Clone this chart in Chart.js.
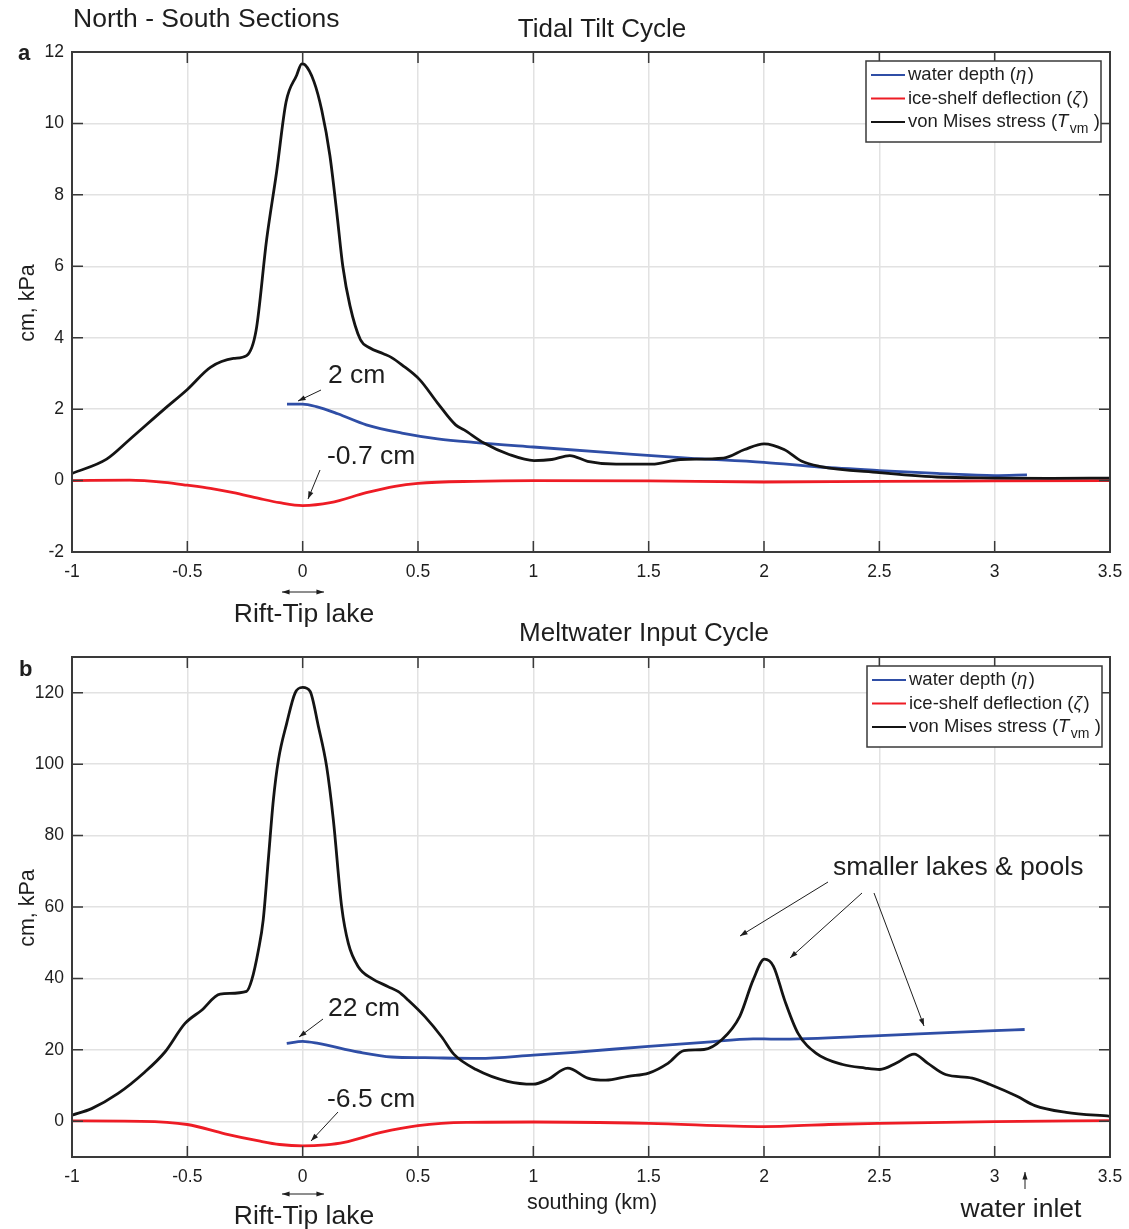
<!DOCTYPE html>
<html>
<head>
<meta charset="utf-8">
<script src="https://cdn.jsdelivr.net/npm/chart.js@4.4.1/dist/chart.umd.min.js"></script>
<style>
  html, body { margin: 0; padding: 0; background: #fff; }
  #wrap { position: relative; width: 1129px; height: 1229px; overflow: hidden; }
  canvas { position: absolute; left: 0; }
  #chartA { top: 0; }
  #chartB { top: 600px; }
</style>
</head>
<body>
<div id="wrap">
  <canvas id="chartA" width="1129" height="640"></canvas>
  <canvas id="chartB" width="1129" height="629"></canvas>
</div>
<script>
// Two stacked N-S sections: tidal tilt (a) and meltwater input (b)

// --- tick values ---
const xTicks = [-1, -0.5, 0, 0.5, 1, 1.5, 2, 2.5, 3, 3.5];
const yTicksA = [-2, 0, 2, 4, 6, 8, 10, 12];
const yTicksB = [0, 20, 40, 60, 80, 100, 120];

// --- panel a: tidal tilt cycle ---
const tideWaterX = [-0.068, 0, 0.059, 0.152, 0.276, 0.43, 0.585, 0.74, 1.0, 1.36, 1.67, 2.0, 2.24, 2.5, 2.75, 3.0, 3.14];
const tideWaterY = [2.14, 2.14, 2.07, 1.87, 1.56, 1.33, 1.17, 1.07, 0.94, 0.77, 0.63, 0.51, 0.38, 0.28, 0.2, 0.14, 0.16];

const tideDeflX = [-1, -0.75, -0.6, -0.5, -0.4, -0.3, -0.19, -0.1, 0, 0.12, 0.276, 0.4, 0.5, 0.74, 1.0, 1.5, 2.0, 2.5, 3.0, 3.5];
const tideDeflY = [0, 0.01, -0.05, -0.13, -0.22, -0.34, -0.5, -0.62, -0.7, -0.62, -0.34, -0.16, -0.08, -0.02, 0, -0.01, -0.04, -0.02, -0.01, 0];

const tideStressX = [-1, -0.85, -0.75, -0.6, -0.5, -0.4, -0.3, -0.243, -0.202, -0.156, -0.113, -0.072, -0.026, -0.004, 0.01, 0.049, 0.083, 0.118, 0.148, 0.174, 0.205, 0.25, 0.29, 0.35, 0.384, 0.43, 0.508, 0.585, 0.663, 0.7, 0.786, 0.895, 1.003, 1.08, 1.158, 1.235, 1.359, 1.514, 1.638, 1.824, 1.916, 2.0, 2.087, 2.164, 2.24, 2.5, 2.75, 3.0, 3.25, 3.5];
const tideStressY = [0.2, 0.6, 1.15, 2.0, 2.55, 3.17, 3.42, 3.5, 4.2, 6.76, 8.64, 10.6, 11.35, 11.67, 11.64, 11.17, 10.36, 9.1, 7.5, 6.0, 4.9, 3.95, 3.72, 3.55, 3.45, 3.24, 2.82, 2.17, 1.56, 1.42, 1.05, 0.73, 0.56, 0.59, 0.7, 0.54, 0.46, 0.46, 0.59, 0.63, 0.87, 1.03, 0.87, 0.54, 0.4, 0.22, 0.1, 0.07, 0.06, 0.07];

// --- panel b: meltwater input cycle ---
const meltWaterX = [-0.069, 0, 0.068, 0.241, 0.386, 0.53, 0.762, 1.0, 1.178, 1.5, 1.74, 1.953, 2.05, 2.502, 2.67, 3.0, 3.13];
const meltWaterY = [21.8, 22.4, 21.8, 19.4, 18.0, 17.8, 17.6, 18.5, 19.3, 21.0, 22.1, 23.1, 23.0, 24.0, 24.5, 25.4, 25.7];

const meltDeflX = [-1, -0.7, -0.5, -0.337, -0.19, -0.1, 0, 0.1, 0.18, 0.34, 0.5, 0.71, 1.0, 1.5, 2.0, 2.28, 2.5, 3.0, 3.5];
const meltDeflY = [0.1, 0, -0.9, -3.5, -5.5, -6.5, -6.9, -6.6, -5.9, -3.1, -1.2, -0.3, -0.2, -0.6, -1.5, -0.9, -0.6, -0.1, 0.2];

const meltStressX = [-1, -0.915, -0.8, -0.684, -0.597, -0.51, -0.438, -0.358, -0.243, -0.221, -0.192, -0.171, -0.149, -0.127, -0.105, -0.069, -0.033, 0, 0.032, 0.068, 0.104, 0.133, 0.169, 0.198, 0.241, 0.299, 0.371, 0.415, 0.458, 0.53, 0.603, 0.655, 0.752, 0.888, 1.0, 1.062, 1.149, 1.236, 1.314, 1.411, 1.5, 1.585, 1.653, 1.74, 1.818, 1.895, 1.953, 2.002, 2.041, 2.089, 2.147, 2.225, 2.341, 2.438, 2.502, 2.574, 2.651, 2.709, 2.787, 2.903, 2.98, 3.097, 3.174, 3.31, 3.5];
const meltStressY = [1.7, 3.55, 7.8, 13.8, 19.4, 27.4, 31.1, 35.6, 36.4, 39.5, 47.9, 56.4, 73.2, 90, 101.2, 111.5, 119.9, 121.5, 120.4, 110.6, 99.3, 84.4, 60.1, 49.8, 43.3, 40, 37.7, 36.3, 33.9, 29.3, 23.6, 18.8, 14.5, 11.2, 10.4, 11.7, 14.9, 12.1, 11.5, 12.6, 13.5, 16.3, 19.8, 20.1, 22.9, 29.4, 39.6, 45.4, 43.4, 34.0, 24.7, 19.1, 15.9, 14.9, 14.5, 16.3, 18.8, 16.3, 13.1, 12.1, 10.3, 7.0, 4.4, 2.5, 1.4];

const seriesLabels = ['water depth', 'ice-shelf deflection', 'von Mises stress'];

// styles
const FONT = '"Liberation Sans", Arial, Helvetica, sans-serif';
const colors = ['#2f4ea6', '#ee1c25', '#141414'];
const gridColor = '#e2e2e2';
const axisColor = '#3a3a3a';
const textColor = '#1e1e1e';

const pts = (xs, ys) => xs.map((x, i) => ({ x: x, y: ys[i] }));

// small drawing helpers
function text(ctx, s, x, y, size, align, bold) {
    ctx.font = (bold ? 'bold ' : '') + size + 'px ' + FONT;
    ctx.textAlign = align || 'left';
    ctx.textBaseline = 'middle';
    ctx.fillStyle = textColor;
    ctx.fillText(s, x, y);
}

function arrowHead(ctx, x1, y1, x2, y2) {
    const a = Math.atan2(y2 - y1, x2 - x1);
    const h = 8;
    ctx.beginPath();
    ctx.moveTo(x2, y2);
    ctx.lineTo(x2 - h * Math.cos(a - 0.33), y2 - h * Math.sin(a - 0.33));
    ctx.lineTo(x2 - h * Math.cos(a + 0.33), y2 - h * Math.sin(a + 0.33));
    ctx.closePath();
    ctx.fill();
}

function arrow(ctx, x1, y1, x2, y2, both) {
    ctx.save();
    ctx.strokeStyle = textColor;
    ctx.fillStyle = textColor;
    ctx.lineWidth = 1;
    ctx.beginPath();
    ctx.moveTo(x1, y1);
    ctx.lineTo(x2, y2);
    ctx.stroke();
    arrowHead(ctx, x1, y1, x2, y2);
    if (both) arrowHead(ctx, x2, y2, x1, y1);
    ctx.restore();
}

function vertLabel(ctx, s, x, y) {
    ctx.save();
    ctx.translate(x, y);
    ctx.rotate(-Math.PI / 2);
    text(ctx, s, 0, 0, 21.5, 'center');
    ctx.restore();
}

// legend: label + greek symbol (italic), last one with subscript
const legendParts = [
    [{ t: seriesLabels[0] + ' (' }, { t: 'η', it: true }, { t: ')' }],
    [{ t: seriesLabels[1] + ' (' }, { t: 'ζ', it: true }, { t: ')' }],
    [{ t: seriesLabels[2] + ' (' }, { t: 'T', it: true }, { t: 'vm', sub: true }, { t: ' )' }]
];

function drawLegend(chart, left, top) {
    const ctx = chart.ctx;
    const w = 235, h = 81;
    ctx.save();
    ctx.fillStyle = '#fff';
    ctx.fillRect(left, top, w, h);
    ctx.strokeStyle = axisColor;
    ctx.lineWidth = 1.5;
    ctx.strokeRect(left, top, w, h);
    chart.data.datasets.forEach((ds, i) => {
        const y = top + 14 + i * 23.5;
        ctx.strokeStyle = ds.borderColor;
        ctx.lineWidth = 2;
        ctx.beginPath();
        ctx.moveTo(left + 5, y);
        ctx.lineTo(left + 39, y);
        ctx.stroke();
        let x = left + 42;
        ctx.fillStyle = textColor;
        ctx.textAlign = 'left';
        ctx.textBaseline = 'middle';
        legendParts[i].forEach(p => {
            ctx.font = (p.it ? 'italic ' : '') + (p.sub ? 14 : 18.5) + 'px ' + FONT;
            ctx.fillText(p.t, x, y + (p.sub ? 7 : 0));
            x += ctx.measureText(p.t).width + (p.it ? 1.5 : 0);
        });
    });
    ctx.restore();
}

// page annotations for each panel (page coordinates, shifted by canvas offset)
const decor = {
    chartA: { offset: 0, legend: [866, 61], draw: ctx => {
        text(ctx, 'North - South Sections', 73, 20, 26.5);
        text(ctx, 'a', 18, 54, 22, 'left', true);
        text(ctx, 'Tidal Tilt Cycle', 602, 30, 26, 'center');
        arrow(ctx, 321, 390, 298, 401);
        text(ctx, '2 cm', 328, 376, 26.5);
        text(ctx, '-0.7 cm', 327, 457, 26.5);
        arrow(ctx, 320, 470, 308, 499);
        arrow(ctx, 282, 592, 324, 592, true);
        text(ctx, 'Rift-Tip lake', 304, 615, 26.5, 'center');
        vertLabel(ctx, 'cm, kPa', 28, 303);
    }},
    chartB: { offset: 600, legend: [867, 666], draw: ctx => {
        text(ctx, 'b', 19, 670, 22, 'left', true);
        text(ctx, 'Meltwater Input Cycle', 644, 634, 26, 'center');
        text(ctx, '22 cm', 328, 1009, 26.5);
        arrow(ctx, 323, 1019, 299, 1037);
        text(ctx, '-6.5 cm', 327, 1100, 26.5);
        arrow(ctx, 338, 1112, 311, 1141);
        text(ctx, 'smaller lakes & pools', 833, 868, 26.5);
        arrow(ctx, 828, 882, 740, 936);
        arrow(ctx, 862, 893, 790, 958);
        arrow(ctx, 874, 893, 924, 1026);
        vertLabel(ctx, 'cm, kPa', 28, 908);
        arrow(ctx, 282, 1194, 324, 1194, true);
        text(ctx, 'Rift-Tip lake', 304, 1217, 26.5, 'center');
        text(ctx, 'southing (km)', 592, 1203, 21.5, 'center');
        arrow(ctx, 1025, 1189, 1025, 1172);
        text(ctx, 'water inlet', 1021, 1210, 26.5, 'center');
    }}
};

// box, inward ticks, legend and annotations (MATLAB-like axes)
const framePlugin = {
    id: 'frame',
    afterDraw(chart) {
        const ctx = chart.ctx;
        const a = chart.chartArea;
        const xs = chart.scales.x, ys = chart.scales.y;
        const d = decor[chart.canvas.id];
        ctx.save();
        ctx.strokeStyle = axisColor;
        ctx.lineWidth = 1.5;
        ctx.beginPath();
        xs.ticks.forEach(t => {
            const px = xs.getPixelForValue(t.value);
            ctx.moveTo(px, a.bottom); ctx.lineTo(px, a.bottom - 11);
            ctx.moveTo(px, a.top); ctx.lineTo(px, a.top + 11);
        });
        ys.ticks.forEach(t => {
            const py = ys.getPixelForValue(t.value);
            ctx.moveTo(a.left, py); ctx.lineTo(a.left + 11, py);
            ctx.moveTo(a.right, py); ctx.lineTo(a.right - 11, py);
        });
        ctx.stroke();
        ctx.lineWidth = 2;
        ctx.strokeRect(a.left, a.top, a.right - a.left, a.bottom - a.top);
        ctx.restore();

        drawLegend(chart, d.legend[0], d.legend[1] - d.offset);
        ctx.save();
        ctx.translate(0, -d.offset);
        d.draw(ctx);
        ctx.restore();
    }
};

function makeChart(id, p) {
    return new Chart(document.getElementById(id), {
        type: 'line',
        data: {
            datasets: [
                { label: seriesLabels[0], data: pts(p.waterX, p.waterY), borderColor: colors[0], order: 1 },
                { label: seriesLabels[1], data: pts(p.deflX, p.deflY), borderColor: colors[1], order: 2 },
                { label: seriesLabels[2], data: pts(p.stressX, p.stressY), borderColor: colors[2], order: 0 }
            ]
        },
        options: {
            responsive: false,
            animation: false,
            elements: {
                line: { borderWidth: 2.8, cubicInterpolationMode: 'monotone', fill: false },
                point: { radius: 0 }
            },
            layout: { padding: { top: p.padTop, right: 19, left: 0, bottom: 0 } },
            plugins: { legend: { display: false }, tooltip: { enabled: false } },
            scales: {
                x: {
                    type: 'linear', min: -1, max: 3.5,
                    afterBuildTicks: s => { s.ticks = xTicks.map(v => ({ value: v })); },
                    afterFit: s => { s.height = p.xHeight; s.paddingLeft = 0; s.paddingRight = 0; },
                    grid: { color: gridColor, lineWidth: 1.5, drawTicks: false },
                    border: { display: false },
                    ticks: {
                        font: { family: FONT, size: 17.5 }, color: textColor, padding: 10,
                        maxRotation: 0, autoSkip: false, callback: v => String(v)
                    }
                },
                y: {
                    type: 'linear', min: p.yMin, max: p.yMax,
                    afterBuildTicks: s => { s.ticks = p.yTicks.map(v => ({ value: v })); },
                    afterFit: s => { s.width = 72; s.paddingTop = 0; s.paddingBottom = 0; },
                    grid: { color: gridColor, lineWidth: 1.5, drawTicks: false },
                    border: { display: false },
                    ticks: {
                        font: { family: FONT, size: 17.5 }, color: textColor, padding: 8,
                        callback: v => String(v)
                    }
                }
            }
        },
        plugins: [framePlugin]
    });
}

makeChart('chartA', {
    waterX: tideWaterX, waterY: tideWaterY,
    deflX: tideDeflX, deflY: tideDeflY,
    stressX: tideStressX, stressY: tideStressY,
    yMin: -2, yMax: 12, yTicks: yTicksA, padTop: 52, xHeight: 88
});

makeChart('chartB', {
    waterX: meltWaterX, waterY: meltWaterY,
    deflX: meltDeflX, deflY: meltDeflY,
    stressX: meltStressX, stressY: meltStressY,
    yMin: -10, yMax: 130, yTicks: yTicksB, padTop: 57, xHeight: 72
});
</script>
</body>
</html>
